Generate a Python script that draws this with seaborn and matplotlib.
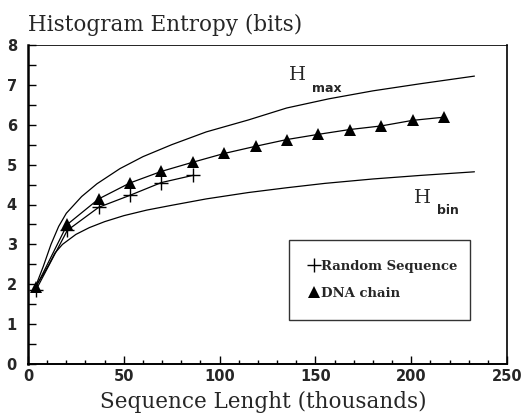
import matplotlib
matplotlib.use("Agg")
import matplotlib.pyplot as plt
import seaborn as sns
import pandas as pd
from matplotlib.ticker import MultipleLocator

# sequence length (thousands) of the measured points
seq_len = [4.1, 20.5, 36.9, 53.2, 69.6, 86.0, 102.4, 118.8, 135.2, 151.6, 167.9, 184.3, 200.7, 217.1]
dna_entropy = [1.92, 3.50, 4.14, 4.54, 4.83, 5.06, 5.28, 5.46, 5.63, 5.76, 5.88, 5.97, 6.11, 6.19]
random_len = [4.1, 20.5, 36.9, 53.2, 69.6, 86.0]
random_entropy = [1.85, 3.35, 3.93, 4.23, 4.55, 4.73]

# theoretical curves
hmax_x = [4, 8, 12, 16, 20, 28, 36, 48, 60, 75, 93, 115, 135, 157, 180, 205, 233]
hmax_y = [1.95, 2.45, 3.0, 3.45, 3.78, 4.2, 4.52, 4.9, 5.2, 5.5, 5.82, 6.12, 6.42, 6.65, 6.85, 7.03, 7.22]
hbin_x = [4, 8, 11, 14, 18, 25, 32, 40, 50, 62, 75, 93, 115, 135, 155, 180, 205, 233]
hbin_y = [1.95, 2.25, 2.5, 2.78, 3.0, 3.25, 3.42, 3.57, 3.72, 3.86, 3.98, 4.14, 4.3, 4.42, 4.53, 4.64, 4.73, 4.82]

dna = pd.DataFrame({"len": seq_len, "H": dna_entropy})
rnd = pd.DataFrame({"len": random_len, "H": random_entropy})

sns.set_style("ticks")
plt.rcParams["font.family"] = ["DejaVu Serif"]

fig = plt.figure(figsize=(5.24, 4.16), dpi=100)
ax = fig.add_axes([28 / 524, 52 / 416, (507 - 28) / 524, (364 - 45) / 416])

sns.lineplot(x=hmax_x, y=hmax_y, ax=ax, color="black", lw=0.9)
sns.lineplot(x=hbin_x, y=hbin_y, ax=ax, color="black", lw=0.9)
sns.lineplot(data=rnd, x="len", y="H", ax=ax, color="black", lw=0.9,
             marker="+", markersize=9.5, markeredgewidth=1.0, markeredgecolor="black",
             label="Random Sequence")
sns.lineplot(data=dna, x="len", y="H", ax=ax, color="black", lw=0.9,
             marker="^", markersize=8, markeredgewidth=0, markeredgecolor="black",
             label="DNA chain")

ax.set_xlim(0, 250)
ax.set_ylim(0, 8)
ax.xaxis.set_major_locator(MultipleLocator(50))
ax.xaxis.set_minor_locator(MultipleLocator(10))
ax.yaxis.set_major_locator(MultipleLocator(1))
ax.yaxis.set_minor_locator(MultipleLocator(0.5))
ax.tick_params(which="both", direction="in", color="black", width=1,
               right=False, top=False)
ax.tick_params(which="major", length=6)
ax.tick_params(axis="x", which="minor", length=3)
ax.tick_params(axis="y", which="minor", length=6)
ax.tick_params(axis="y", pad=8)
for lab in ax.get_xticklabels() + ax.get_yticklabels():
    lab.set_fontfamily("DejaVu Sans")
    lab.set_fontweight("bold")
    lab.set_fontsize(10.5)

for side in ["left", "bottom", "right", "top"]:
    ax.spines[side].set_visible(True)
    ax.spines[side].set_color("black")
ax.spines["left"].set_linewidth(1.8)
ax.spines["bottom"].set_linewidth(1.4)
ax.spines["right"].set_linewidth(1.2)
ax.spines["top"].set_linewidth(0.6)

ax.set_xlabel("")
ax.set_ylabel("")

# curve labels
ax.text(140.5, 7.24, "H", fontsize=14, ha="center", va="center")
ax.text(156, 6.92, "max", fontsize=9, fontfamily="DejaVu Sans", fontweight="bold",
        ha="center", va="center")
ax.text(206, 4.16, "H", fontsize=14, ha="center", va="center")
ax.text(219, 3.86, "bin", fontsize=9, fontfamily="DejaVu Sans", fontweight="bold",
        ha="center", va="center")

leg = ax.legend(loc="upper left",
                bbox_to_anchor=((289 - 28) / 479, (364 - 243) / 319, (470 - 289) / 479, 0.01),
                mode="expand", frameon=True, fancybox=False, handlelength=0.8,
                handletextpad=0.1, borderpad=1.5, labelspacing=1.1, borderaxespad=0,
                prop={"family": "DejaVu Serif", "weight": "bold", "size": 9.5})
leg.get_frame().set_edgecolor("black")
leg.get_frame().set_linewidth(1.0)
for h in leg.legend_handles:
    h.set_linestyle("none")

fig.text(28 / 524, 1 - 25 / 416, "Histogram Entropy (bits)", fontsize=15.5,
         ha="left", va="center")
fig.text(263 / 524, 1 - 402 / 416, "Sequence Lenght (thousands)", fontsize=15.5,
         ha="center", va="center")

fig.savefig("out.png", dpi=100)
